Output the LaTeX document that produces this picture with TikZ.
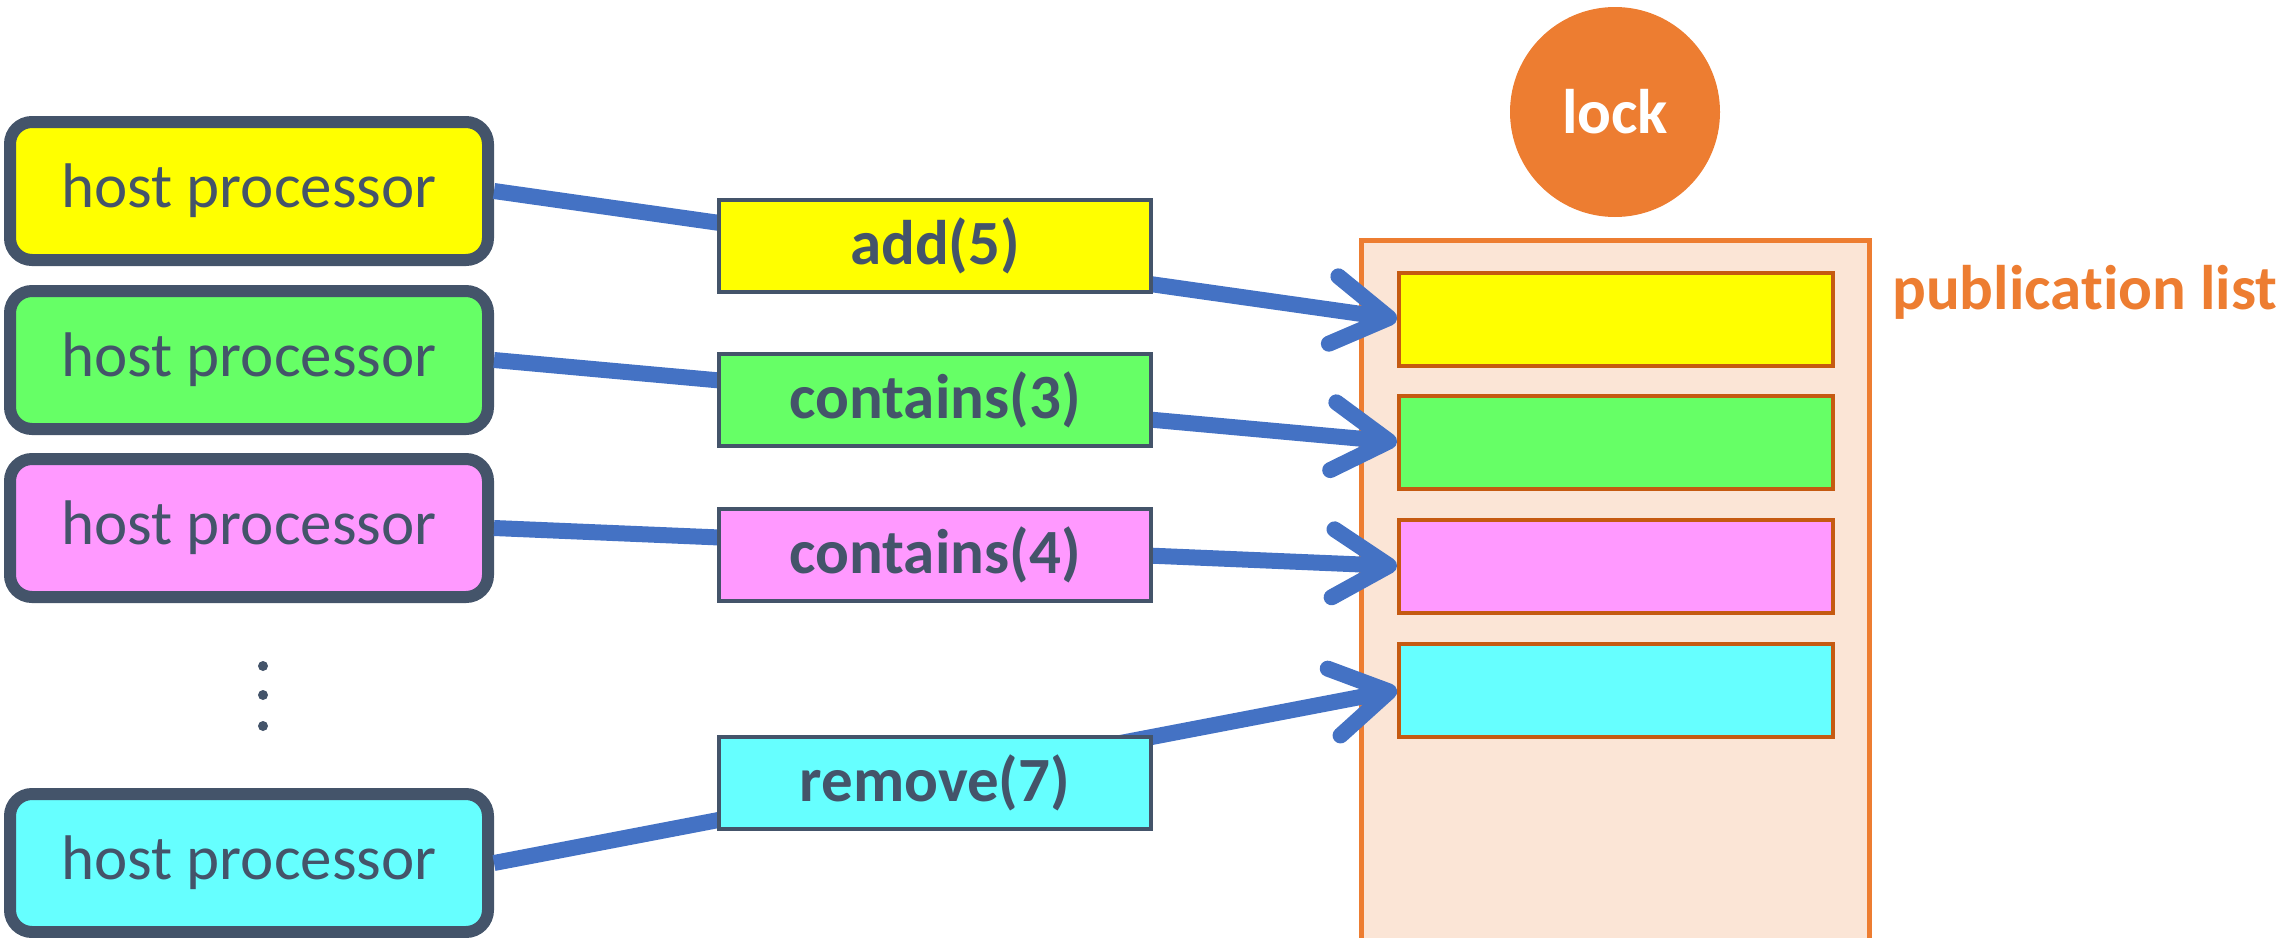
\documentclass[tikz,border=0pt]{standalone}
\usepackage{fontspec}
\setmainfont{Carlito}[Ligatures=NoCommon]
\usetikzlibrary{arrows.meta}
\usetikzlibrary{backgrounds}

\definecolor{slate}{HTML}{44546A}
\definecolor{linkblue}{HTML}{4472C4}
\definecolor{lockorange}{HTML}{ED7D31}
\definecolor{listfill}{HTML}{FBE5D6}
\definecolor{slotedge}{HTML}{C55A11}
\definecolor{reqyellow}{HTML}{FFFF00}
\definecolor{reqgreen}{HTML}{66FF66}
\definecolor{reqpink}{HTML}{FF99FF}
\definecolor{reqcyan}{HTML}{66FFFF}

\begin{document}
\begin{tikzpicture}[x=1pt,y=-1pt]
\useasboundingbox (0,0) rectangle (2280,937);
\begin{scope}
\tikzstyle{every node}=[inner sep=0pt, font=\fontsize{63}{70}\selectfont];
\tikzstyle{hostbox}=[draw=slate, line width=12pt, rounded corners=22pt, minimum width=478pt, minimum height=138pt, text=slate];
\tikzstyle{opbox}=[draw=slate, line width=4pt, minimum width=432pt, minimum height=92pt, text=slate, font=\fontsize{63}{70}\selectfont\bfseries];
\tikzstyle{slotbox}=[draw=slotedge, line width=4pt, minimum width=434pt, minimum height=93pt];
\tikzstyle{feed}=[draw=linkblue, line width=16pt, -{Straight Barb[length=56pt,width=68pt,round]}];

% publication list and lock
\draw[draw=lockorange, fill=listfill, line width=5pt] (1361,240) rectangle (1869,960);
\draw (1615,112) node[circle, fill=lockorange, minimum size=210pt, text=white, font=\fontsize{63}{70}\selectfont\bfseries] (lock) {lock};
\draw (1892,292) node[anchor=west, text=lockorange, font=\fontsize{63}{70}\selectfont\bfseries] (pubname) {publication list};

\draw (1616,319) node[slotbox, fill=reqyellow] (s1) {};
\draw (1616,442) node[slotbox, fill=reqgreen] (s2) {};
\draw (1616,566) node[slotbox, fill=reqpink] (s3) {};
\draw (1616,690) node[slotbox, fill=reqcyan] (s4) {};

% host processors
\draw (249,191) node[hostbox, fill=reqyellow] (h1) {host processor};
\draw (249,360) node[hostbox, fill=reqgreen] (h2) {host processor};
\draw (249,528) node[hostbox, fill=reqpink] (h3) {host processor};
\draw (249,863) node[hostbox, fill=reqcyan] (h4) {host processor};

\fill[slate] (263,666) circle (5) (263,695) circle (5) (263,726) circle (5);

% requests
\draw[feed] (h1.east) -- (s1.west);
\draw[feed] (h2.east) -- (s2.west);
\draw[feed] (h3.east) -- (s3.west);
\draw[feed] (h4.east) -- (s4.west);

\draw (935,246) node[opbox, fill=reqyellow] (r1) {add(5)};
\draw (935,400) node[opbox, fill=reqgreen] (r2) {contains(3)};
\draw (935,555) node[opbox, fill=reqpink] (r3) {contains(4)};
\draw (935,783) node[opbox, fill=reqcyan] (r4) {remove(7)};
\end{scope}
\end{tikzpicture}
\end{document}
